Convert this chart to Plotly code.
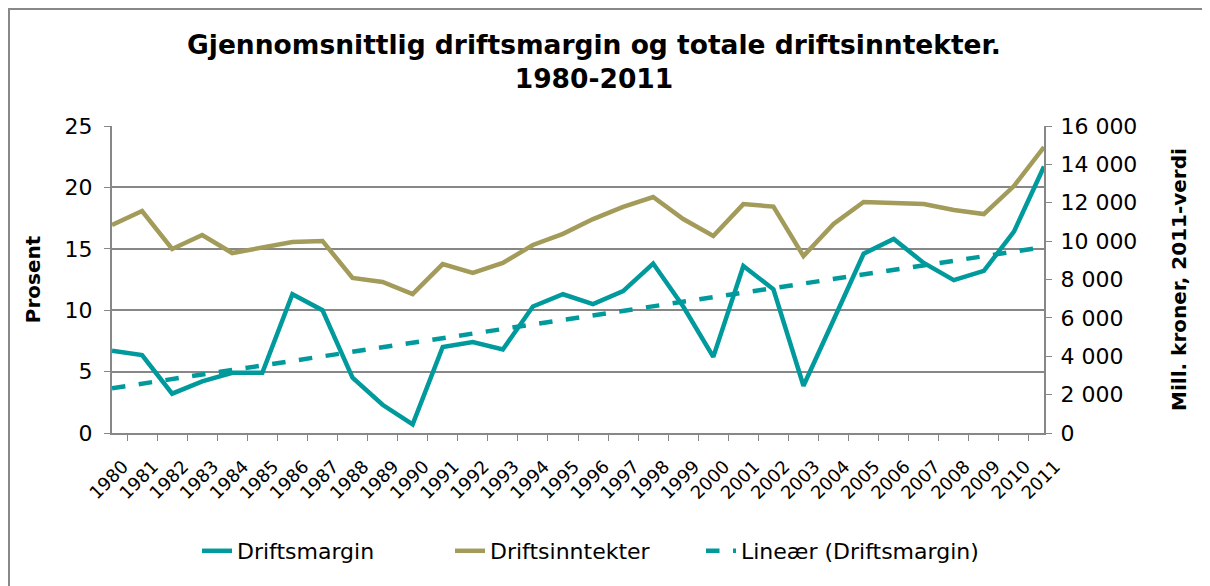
import numpy as np
import plotly.graph_objects as go

years = [str(y) for y in range(1980, 2012)]
driftsmargin = [6.7, 6.35, 3.2, 4.2, 4.9, 4.9, 11.3, 10.0, 4.5, 2.3, 0.7, 7.0, 7.4, 6.8,
                10.3, 11.3, 10.5, 11.55, 13.8, 10.3, 6.2, 13.6, 11.7, 3.85, 9.2, 14.6,
                15.8, 13.85, 12.45, 13.2, 16.4, 21.7]
driftsinntekter = [10840, 11570, 9590, 10320, 9380, 9690, 9950, 10010, 8080, 7870, 7240,
                   8800, 8340, 8860, 9800, 10380, 11150, 11780, 12300, 11150, 10270, 11930,
                   11800, 9220, 10890, 12040, 11990, 11930, 11620, 11410, 12870, 14900]

# Linear trendline (least squares on Driftsmargin), as in the original chart
idx = np.arange(len(years))
slope, intercept = np.polyfit(idx, driftsmargin, 1)
trend = slope * idx + intercept

teal = "#009A9D"
olive = "#A29B5A"
grid = "#878787"
font = "DejaVu Sans"

# page body adds an 8px offset; figure coords = screen coords - 8
W, H = 1202, 578
L, T, R, B = 104, 118, 1036, 425  # plot area in figure coords
PW, PH = R - L, B - T

def px(xs):
    return (xs - 8 - L) / PW

fig = go.Figure()
fig.add_trace(go.Scatter(x=years, y=driftsmargin, name="Driftsmargin", mode="lines",
                         line=dict(color=teal, width=4.5), legend="legend"))
fig.add_trace(go.Scatter(x=years, y=driftsinntekter, name="Driftsinntekter", mode="lines",
                         line=dict(color=olive, width=4.5), yaxis="y2", legend="legend2"))
fig.add_trace(go.Scatter(x=years, y=trend, name="Lineær (Driftsmargin)", mode="lines",
                         line=dict(color=teal, width=4.5, dash="dash"), legend="legend3"))

leg_y = (B - (551 - 8)) / PH
legend_common = dict(orientation="h", xanchor="left", yanchor="middle", y=leg_y,
                     font=dict(size=22, family=font), bgcolor="rgba(0,0,0,0)")

fig.update_layout(
    width=W, height=H,
    paper_bgcolor="white", plot_bgcolor="white",
    margin=dict(l=L, r=W - R, t=T, b=H - B),
    font=dict(family=font, size=22, color="#000000"),
    title=dict(text="<b>Gjennomsnittlig driftsmargin og totale driftsinntekter.<br>1980-2011</b>",
               x=px(594), xref="paper", xanchor="center", y=1 - 46 / H, yanchor="middle",
               font=dict(family=font, size=26.5, color="#000000")),
    xaxis=dict(type="category", tickangle=-45, tickson="boundaries", ticks="outside",
               ticklen=6, tickcolor=grid, showline=True, linecolor=grid, linewidth=2,
               showgrid=False, automargin=False, ticklabelstandoff=14, ticklabelshift=11,
               tickfont=dict(size=18, family=font)),
    yaxis=dict(range=[0, 25], dtick=5, showgrid=True, gridcolor=grid, gridwidth=2,
               showline=True, linecolor=grid, linewidth=2, ticks="outside", ticklen=6,
               tickcolor=grid, zeroline=False, automargin=False, ticklabelstandoff=7,
               title=dict(text="<b>Prosent</b>", standoff=19, font=dict(size=20))),
    yaxis2=dict(range=[0, 16000], dtick=2000, overlaying="y", side="right",
                showgrid=False, showline=True, linecolor=grid, linewidth=2,
                ticks="outside", ticklen=6, tickcolor=grid, zeroline=False,
                tickformat=",d", automargin=False, ticklabelstandoff=4,
                title=dict(text="<b>Mill. kroner, 2011-verdi</b>", standoff=36, font=dict(size=20))),
    separators=", ",
    legend=dict(x=px(237 - 40), **legend_common),
    legend2=dict(x=px(490 - 40), **legend_common),
    legend3=dict(x=px(741 - 40), **legend_common),
    showlegend=True,
)

fig.add_shape(type="rect", xref="paper", yref="paper",
              x0=px(9), x1=px(1240),
              y0=(B - 600) / PH, y1=(B - 1) / PH,
              line=dict(color="#888888", width=2), layer="below")

fig.write_html("out.html")
